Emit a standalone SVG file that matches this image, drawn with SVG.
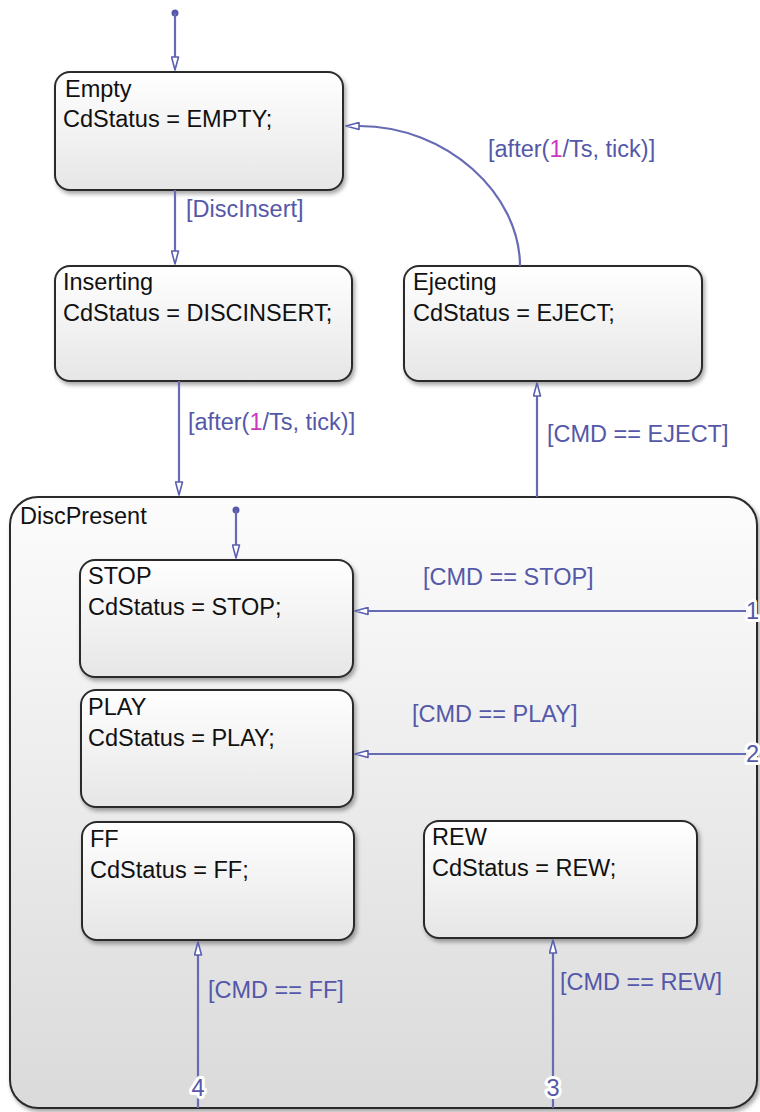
<svg xmlns="http://www.w3.org/2000/svg" width="760" height="1112" viewBox="0 0 760 1112">
<style>
.st{stroke:#2b2b2b;stroke-width:2;filter:url(#sh)}
.box{fill:url(#g1)}
.sup{fill:url(#g2)}
.t{font-family:"Liberation Sans",Arial,sans-serif;font-size:23.5px;fill:#111}
.lb{font-family:"Liberation Sans",Arial,sans-serif;font-size:23.5px;fill:#5558a8}
.num{font-family:"Liberation Sans",Arial,sans-serif;font-size:23.5px;fill:#5558a8;stroke:#fff;stroke-width:6;stroke-linejoin:round;paint-order:stroke}
.mg{fill:#c838c0}
.c{fill:none;stroke:#666bb4;stroke-width:2.2}
</style>
<defs>
<linearGradient id="g1" x1="0" y1="0" x2="0" y2="1"><stop offset="0" stop-color="#ffffff"/><stop offset="1" stop-color="#e6e6e6"/></linearGradient>
<linearGradient id="g2" x1="0" y1="0" x2="0" y2="1"><stop offset="0" stop-color="#fcfcfc"/><stop offset="1" stop-color="#dadada"/></linearGradient>
<filter id="sh" x="-10%" y="-10%" width="125%" height="130%"><feDropShadow dx="2" dy="3" stdDeviation="2" flood-color="#000" flood-opacity="0.35"/></filter>
<marker id="ah" viewBox="0 0 15 9" refX="1" refY="4.5" markerWidth="15" markerHeight="9" markerUnits="userSpaceOnUse" orient="auto"><path d="M1,1 L14,4.5 L1,8 Z" fill="#ffffff" stroke="#5a5fb0" stroke-width="1.6" stroke-linejoin="round"/></marker>
</defs>
<g id="DiscPresent">
<rect class="sup st" x="10" y="497" width="747" height="611" rx="28"/>
<text class="t" x="20" y="524">DiscPresent</text>
</g>
<g id="Empty">
<rect class="box st" x="55" y="72" width="288" height="118" rx="15"/>
<text class="t" x="65" y="97">Empty</text>
<text class="t" x="63" y="127">CdStatus = EMPTY;</text>
</g>
<g id="Inserting">
<rect class="box st" x="55" y="266" width="297" height="115" rx="15"/>
<text class="t" x="63" y="290">Inserting</text>
<text class="t" x="63" y="321">CdStatus = DISCINSERT;</text>
</g>
<g id="Ejecting">
<rect class="box st" x="404" y="266" width="298" height="115" rx="15"/>
<text class="t" x="413" y="290">Ejecting</text>
<text class="t" x="413" y="321">CdStatus = EJECT;</text>
</g>
<g id="STOP">
<rect class="box st" x="80" y="560" width="273" height="117" rx="15"/>
<text class="t" x="88" y="584">STOP</text>
<text class="t" x="88" y="615">CdStatus = STOP;</text>
</g>
<g id="PLAY">
<rect class="box st" x="81" y="690" width="272" height="117" rx="15"/>
<text class="t" x="88" y="715">PLAY</text>
<text class="t" x="88" y="746">CdStatus = PLAY;</text>
</g>
<g id="FF">
<rect class="box st" x="82" y="822" width="272" height="118" rx="15"/>
<text class="t" x="90" y="847">FF</text>
<text class="t" x="90" y="878">CdStatus = FF;</text>
</g>
<g id="REW">
<rect class="box st" x="424" y="821" width="273" height="117" rx="15"/>
<text class="t" x="432" y="845">REW</text>
<text class="t" x="432" y="876">CdStatus = REW;</text>
</g>
<g id="connectors">
<circle cx="175" cy="13" r="3.5" fill="#5558a8"/>
<path class="c" d="M175,13 V57" marker-end="url(#ah)"/>
<path class="c" d="M175,190 V251" marker-end="url(#ah)"/>
<text class="lb" x="186" y="217">[DiscInsert]</text>
<path class="c" d="M179,381 V482" marker-end="url(#ah)"/>
<text class="lb" x="188" y="430">[after(<tspan class="mg">1</tspan>/Ts, tick)]</text>
<path class="c" d="M520,266 C520,194 447,126 359,126" marker-end="url(#ah)"/>
<text class="lb" x="488" y="157">[after(<tspan class="mg">1</tspan>/Ts, tick)]</text>
<path class="c" d="M537,497 V396" marker-end="url(#ah)"/>
<text class="lb" x="547" y="442">[CMD == EJECT]</text>
<circle cx="236" cy="510" r="3.5" fill="#5558a8"/>
<path class="c" d="M236,510 V545" marker-end="url(#ah)"/>
<path class="c" d="M746,611 H368" marker-end="url(#ah)"/>
<text class="lb" x="423" y="585">[CMD == STOP]</text>
<text class="num" x="746" y="619">1</text>
<path class="c" d="M746,754 H368" marker-end="url(#ah)"/>
<text class="lb" x="412" y="722">[CMD == PLAY]</text>
<text class="num" x="746" y="762">2</text>
<path class="c" d="M198,1108 V955" marker-end="url(#ah)"/>
<text class="lb" x="208" y="998">[CMD == FF]</text>
<text class="num" x="198" y="1096" text-anchor="middle">4</text>
<path class="c" d="M553,1108 V953" marker-end="url(#ah)"/>
<text class="lb" x="560" y="990">[CMD == REW]</text>
<text class="num" x="553" y="1096" text-anchor="middle">3</text>
</g>
</svg>
